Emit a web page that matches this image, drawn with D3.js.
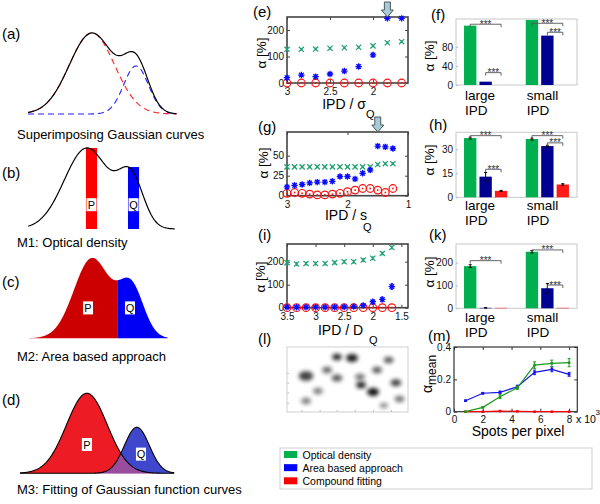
<!DOCTYPE html>
<html><head><meta charset="utf-8">
<script src="https://cdn.jsdelivr.net/npm/d3@7"></script>
<style>body{margin:0;background:#fff}svg{display:block}</style>
</head><body><svg id="c" width="600" height="504"></svg>
<script>
const FONT = '"Liberation Sans", Arial, Helvetica, sans-serif';
// ---------------- DATA ----------------
// schematic gaussians (amplitude, mean, sd in units of P-curve sd)
const aAmp = [1, 0.593], aMean = [0, 1.95], aSd = [1, 0.549];
const bBarX = [0.2, 2.06], bBarTop = [1.0, 0.765];
const cAmp = [1, 0.64], cMean = [0, 2.17], cSd = [1, 0.70], cSplit = 1.44;
const cLabelX = [-0.22, 2.11], cLabelY = [0.38, 0.38];
const dAmp = [1, 0.575], dMean = [0, 2.45], dSd = [1, 0.61];
const dLabelX = [0, 2.65], dLabelY = [0.36, 0.24];
const peakLabels = ['P', 'Q'];

// (e) IPD / sigma_Q
const eX = [3, 2.833, 2.667, 2.5, 2.333, 2.167, 2, 1.833, 1.667];
const eOD = [127, 127, 128, 131, 133, 135, 140, 152, 156];
const eODErr = [3, 3, 3, 3, 3, 3, 3, 3, 3];
const eArea = [20, 30, 24, 34, 45, 62, 106, 244, 244];
const eAreaErr = [5, 5, 5, 6, 6, 7, 7, 4, 4];
const eFit = [0, 0, 0, 0, 0, 0, 0, 0, 0];
const eArrow = 1.833;
// (g) IPD / s_Q
const gX = [3, 2.875, 2.75, 2.625, 2.5, 2.375, 2.25, 2.125, 2, 1.875, 1.75, 1.625, 1.5, 1.375, 1.25];
const gOD = [36, 36, 36, 36, 36, 36, 36, 36, 36, 36, 36, 36, 39, 40, 40];
const gODErr = [1, 1, 1, 1, 1, 1, 1, 1, 1, 1, 1, 1, 1, 1, 1];
const gArea = [11, 13, 14, 16, 17, 17, 18, 24, 24, 21, 28, 32, 62, 61, 59];
const gAreaErr = [2, 2, 2, 2, 2, 2, 2, 2, 2, 2, 2, 2, 2, 2, 2];
const gFit = [3, 4, 3, 2, 1, 1, 2, 3, 5, 7, 9, 9, 7, 4, 9];
const gArrow = 1.5;
// (i) IPD / D_Q
const iX = [3.5, 3.333, 3.167, 3, 2.833, 2.667, 2.5, 2.333, 2.167, 2, 1.833, 1.667];
const iOD = [196, 190, 192, 192, 192, 196, 200, 200, 207, 215, 236, 262];
const iODErr = [6, 6, 6, 6, 6, 6, 6, 6, 6, 6, 6, 6];
const iArea = [2, 2, 2, 2, 2, 2, 3, 5, 10, 26, 36, 92];
const iAreaErr = [4, 4, 4, 4, 4, 4, 4, 5, 6, 8, 10, 12];
const iFit = [0, 0, 0, 0, 0, 0, 0, 0, 0, 0, 0, 0];

// bar panels (f), (h), (k): [large IPD, small IPD]
const groups = ['large', 'small'];
const groupLine2 = 'IPD';
const methods = ['od', 'area', 'fit'];
const methodNames = ['Optical density', 'Area based approach', 'Compound fitting'];
const fOD = [125, 137], fArea = [7, 104], fFit = [0, 0];
const hOD = [37, 36.4], hArea = [12.9, 32], hFit = [4, 8];
const hODErr = [0.6, 0.6], hAreaErr = [2.6, 0.5], hFitErr = [0.3, 0.5];
const kOD = [185, 248], kArea = [2, 88], kFit = [2, 2];
const kODErr = [6, 5], kAreaErr = [1, 21], kFitErr = [0, 0];

// (l) spots, normalized image coords
const lX = [0.157, 0.331, 0.413, 0.256, 0.157, 0.413, 0.537, 0.603, 0.612, 0.711, 0.744, 0.84, 0.9, 0.93, 0.8];
const lY = [0.446, 0.354, 0.477, 0.677, 0.831, 0.154, 0.169, 0.462, 0.585, 0.692, 0.354, 0.2, 0.55, 0.8, 0.9];
const lR = [6, 4, 4.5, 4, 4, 4, 5, 4, 4, 5, 4, 4, 4.5, 4, 3.5];
const lDark = [0.75, 0.6, 0.65, 0.5, 0.5, 0.85, 0.9, 0.55, 0.9, 0.95, 0.65, 0.65, 0.75, 0.55, 0.45];

// (m) spots per pixel (x 10^3)
const mX = [0.8, 2, 3.2, 4.4, 5.6, 6.8, 8.0];
const mOD = [0, 0.027, 0.093, 0.148, 0.288, 0.299, 0.303];
const mODErr = [0, 0.003, 0.012, 0.01, 0.02, 0.02, 0.025];
const mArea = [0.068, 0.114, 0.12, 0.154, 0.243, 0.262, 0.231];
const mAreaErr = [0.004, 0.005, 0.008, 0.01, 0.014, 0.015, 0.012];
const mFit = [0, 0, 0.004, 0.002, 0, 0, 0];

// ---------------- DRAWING ----------------
const svg = d3.select('#c').attr('font-family', FONT);
const COL = {odBar: '#00b050', areaBar: '#000090', fitBar: '#ff1a1a',
  odMark: '#1fa070', areaMark: '#0a0aff', fitMark: '#ff1010',
  odLine: '#1e9a1e', areaLine: '#1414f0', fitLine: '#ff0000',
  legOD: '#00b050', legArea: '#0000ff', legFit: '#ff0000'};

function T(x, y, s, o = {}) {
  const t = svg.append('text').attr('x', x).attr('y', y).text(s)
    .attr('font-size', o.size || 13).attr('fill', o.fill || '#000')
    .attr('text-anchor', o.anchor || 'start');
  if (o.rotate) t.attr('transform', `rotate(-90,${x},${y})`);
  return t;
}

// panel labels
[['(a)', 2, 39], ['(b)', 2, 178], ['(c)', 2, 287], ['(d)', 2, 405],
 ['(e)', 253, 17], ['(f)', 431, 20], ['(g)', 258, 132], ['(h)', 429, 130],
 ['(i)', 258, 240], ['(k)', 429, 240], ['(l)', 258, 344], ['(m)', 428, 341]]
  .forEach(d => T(d[1], d[2], d[0], {size: 15}));

const gauss = (amp, mean, sd, i, x) => amp[i] * Math.exp(-((x - mean[i]) ** 2) / (2 * sd[i] ** 2));

function labelBox(cx, cy, s) {
  svg.append('rect').attr('x', cx - 5).attr('y', cy - 6.5).attr('width', 10).attr('height', 13).attr('fill', '#fff');
  T(cx, cy + 4, s, {size: 11, anchor: 'middle'});
}

// (a)
{
  const x = d3.scaleLinear().domain([-2.83, 3.75]).range([28, 176.7]);
  const y = d3.scaleLinear().domain([0, 1]).range([114, 33]);
  const xs = d3.range(x.domain()[0], x.domain()[1] + 0.001, 0.03);
  const line = d3.line().x(d => x(d[0])).y(d => y(d[1]));
  [0, 1].forEach(i => svg.append('path').attr('d', line(xs.map(v => [v, gauss(aAmp, aMean, aSd, i, v)])))
    .attr('fill', 'none').attr('stroke', i ? '#2020ff' : '#ff2020').attr('stroke-width', 1.1).attr('stroke-dasharray', '6,4'));
  svg.append('path').attr('d', line(xs.map(v => [v, gauss(aAmp, aMean, aSd, 0, v) + gauss(aAmp, aMean, aSd, 1, v)])))
    .attr('fill', 'none').attr('stroke', '#000').attr('stroke-width', 1.2);
  T(17, 139, 'Superimposing Gaussian curves', {size: 13});
}
// (b)
{
  const x = d3.scaleLinear().domain([-2.6, 3.9]).range([28.2, 175.1]);
  const y = d3.scaleLinear().domain([0, 1]).range([229, 148]);
  const xs = d3.range(x.domain()[0], x.domain()[1] + 0.001, 0.03);
  const bw = x(0.49) - x(0);
  [0, 1].forEach(i => {
    svg.append('rect').attr('x', x(bBarX[i]) - bw / 2).attr('y', y(bBarTop[i])).attr('width', bw)
      .attr('height', y(0) - y(bBarTop[i])).attr('fill', i ? '#0000ff' : '#ff0000');
  });
  svg.append('path').attr('d', d3.line().x(d => x(d)).y(d => y(gauss(aAmp, aMean, aSd, 0, d) + gauss(aAmp, aMean, aSd, 1, d)))(xs))
    .attr('fill', 'none').attr('stroke', '#000').attr('stroke-width', 1.2);
  [0, 1].forEach(i => labelBox(x(bBarX[i]), y(0.3), peakLabels[i]));
  T(17, 247, 'M1: Optical density', {size: 13});
}
// (c)
{
  const x = d3.scaleLinear().domain([-3.61, 4.2]).range([27, 167.6]);
  const y = d3.scaleLinear().domain([0, 1]).range([338.3, 258.3]);
  const sum = v => gauss(cAmp, cMean, cSd, 0, v) + gauss(cAmp, cMean, cSd, 1, v);
  const area = d3.area().x(d => x(d)).y0(y(0)).y1(d => y(sum(d)));
  const left = d3.range(x.domain()[0], cSplit, 0.03).concat([cSplit]);
  const right = [cSplit].concat(d3.range(cSplit + 0.03, x.domain()[1] + 0.001, 0.03));
  svg.append('path').attr('d', area(left)).attr('fill', '#cc0000');
  svg.append('path').attr('d', area(right)).attr('fill', '#0000f5');
  [0, 1].forEach(i => labelBox(x(cLabelX[i]), y(cLabelY[i]), peakLabels[i]));
  T(17, 361, 'M2: Area based approach', {size: 13});
}
// (d)
{
  const x = d3.scaleLinear().domain([-3.28, 4.3]).range([20, 174.6]);
  const y = d3.scaleLinear().domain([0, 1]).range([473.3, 393.3]);
  const xs = d3.range(x.domain()[0], x.domain()[1] + 0.001, 0.03);
  const g0 = v => gauss(dAmp, dMean, dSd, 0, v), g1 = v => gauss(dAmp, dMean, dSd, 1, v);
  const area = f => d3.area().x(d => x(d)).y0(y(0)).y1(d => y(f(d)))(xs);
  svg.append('path').attr('d', area(g0)).attr('fill', '#ed1c24');
  svg.append('path').attr('d', area(g1)).attr('fill', '#3f48cc');
  svg.append('path').attr('d', area(v => Math.min(g0(v), g1(v)))).attr('fill', '#9a4c9e');
  [g0, g1].forEach(f => svg.append('path').attr('d', d3.line().x(d => x(d)).y(d => y(f(d)))(xs))
    .attr('fill', 'none').attr('stroke', '#000').attr('stroke-width', 1.1));
  [0, 1].forEach(i => labelBox(x(dLabelX[i]), y(dLabelY[i]), peakLabels[i]));
  T(17, 494, 'M3: Fitting of Gaussian function curves', {size: 13});
}

function styleAxis(a, col, labels) {
  a.attr('font-family', FONT).attr('font-size', 10);
  a.select('.domain').remove();
  a.selectAll('.tick line').attr('stroke', col);
  a.selectAll('text').attr('fill', '#111');
  if (!labels) a.selectAll('text').remove();
}

function markX(g, cx, cy, r, col) {
  g.append('path').attr('d', `M${cx - r},${cy - r}L${cx + r},${cy + r}M${cx - r},${cy + r}L${cx + r},${cy - r}`)
    .attr('stroke', col).attr('stroke-width', 1.2).attr('fill', 'none');
}
function markStar(g, cx, cy, r, col) {
  const q = r * 0.72;
  g.append('path').attr('d', `M${cx - r},${cy}L${cx + r},${cy}M${cx},${cy - r}L${cx},${cy + r}M${cx - q},${cy - q}L${cx + q},${cy + q}M${cx - q},${cy + q}L${cx + q},${cy - q}`)
    .attr('stroke', col).attr('stroke-width', 1.3).attr('fill', 'none');
}
function errBar(g, cx, y1, y2, col, cap, w) {
  g.append('path').attr('d', `M${cx},${y1}L${cx},${y2}M${cx - cap},${y1}L${cx + cap},${y1}M${cx - cap},${y2}L${cx + cap},${y2}`)
    .attr('stroke', col).attr('stroke-width', w || 1).attr('fill', 'none');
}

function scatterPanel(p) {
  const x = d3.scaleLinear().domain(p.xDomain).range([p.left, p.right]);
  const y = d3.scaleLinear().domain(p.yDomain).range([p.bottom, p.top]);
  const g = svg.append('g');
  const fmt = d => String(d);
  styleAxis(g.append('g').attr('transform', `translate(0,${p.bottom})`).call(d3.axisBottom(x).tickValues(p.xTicks).tickSize(-3).tickPadding(5).tickFormat(fmt)), '#444', true);
  styleAxis(g.append('g').attr('transform', `translate(0,${p.top})`).call(d3.axisTop(x).tickValues(p.xTicks).tickSize(-3)), '#444', false);
  styleAxis(g.append('g').attr('transform', `translate(${p.left},0)`).call(d3.axisLeft(y).tickValues(p.yTicks).tickSize(-3).tickPadding(3).tickFormat(fmt)), '#444', true);
  styleAxis(g.append('g').attr('transform', `translate(${p.right},0)`).call(d3.axisRight(y).tickValues(p.yTicks).tickSize(-3)), '#444', false);
  g.append('rect').attr('x', p.left).attr('y', p.top).attr('width', p.right - p.left).attr('height', p.bottom - p.top)
    .attr('fill', 'none').attr('stroke', '#444').attr('stroke-width', 1.6);
  p.xs.forEach((v, i) => {
    const cx = x(v);
    errBar(g, cx, y(p.od[i] - p.odErr[i]), y(p.od[i] + p.odErr[i]), COL.odMark, 1, 1);
    markX(g, cx, y(p.od[i]), 2.6, COL.odMark);
  });
  p.xs.forEach((v, i) => {
    const cx = x(v), cy = y(p.fit[i]);
    g.append('circle').attr('cx', cx).attr('cy', cy).attr('r', 3.8).attr('fill', 'none').attr('stroke', COL.fitMark).attr('stroke-width', 1.2);
    g.append('rect').attr('x', cx - 0.8).attr('y', cy - 0.8).attr('width', 1.6).attr('height', 1.6).attr('fill', COL.fitMark);
  });
  p.xs.forEach((v, i) => {
    const cx = x(v);
    errBar(g, cx, y(p.area[i] - p.areaErr[i]), y(p.area[i] + p.areaErr[i]), COL.areaMark, 1.2, 1);
    markStar(g, cx, y(p.area[i]), 3.2, COL.areaMark);
  });
  if (p.arrow !== undefined) {
    const ax = x(p.arrow), ty = p.top;
    svg.append('path').attr('d', `M${ax - 3},${ty - 15}L${ax + 3},${ty - 15}L${ax + 3},${ty - 7}L${ax + 6},${ty - 7}L${ax},${ty}L${ax - 6},${ty - 7}L${ax - 3},${ty - 7}Z`)
      .attr('fill', '#a9cbd3').attr('stroke', '#4a5a60').attr('stroke-width', 1);
  }
  T(p.ylx, p.yly, 'α [%]', {size: 13.5, anchor: 'middle', rotate: true});
  T(p.xlx, p.xly, p.xlabel, {size: 14, anchor: 'middle'});
  T(p.qx, p.qy, 'Q', {size: 11});
}

scatterPanel({left: 287, right: 408, top: 17, bottom: 83, xDomain: [3, 1.593], yDomain: [0, 249],
  xTicks: [3, 2.5, 2], yTicks: [0, 100, 200], xs: eX, od: eOD, odErr: eODErr, area: eArea, areaErr: eAreaErr, fit: eFit,
  arrow: eArrow, ylx: 266, yly: 53, xlabel: 'IPD / σ', xlx: 344, xly: 109, qx: 366, qy: 118});
scatterPanel({left: 287, right: 408, top: 132, bottom: 195.7, xDomain: [3, 1], yDomain: [0, 79.6],
  xTicks: [3, 2, 1], yTicks: [0, 25, 50], xs: gX, od: gOD, odErr: gODErr, area: gArea, areaErr: gAreaErr, fit: gFit,
  arrow: gArrow, ylx: 268, yly: 163, xlabel: 'IPD / s', xlx: 346, xly: 220, qx: 363, qy: 231});
scatterPanel({left: 287, right: 408, top: 244, bottom: 307.7, xDomain: [3.5, 1.384], yDomain: [0, 277],
  xTicks: [3.5, 3, 2.5, 2, 1.5], yTicks: [0, 100, 200], xs: iX, od: iOD, odErr: iODErr, area: iArea, areaErr: iAreaErr, fit: iFit,
  ylx: 265, yly: 277, xlabel: 'IPD / D', xlx: 340.5, xly: 335, qx: 369, qy: 344});

function barPanel(p) {
  const x0 = d3.scaleBand().domain(groups).range([456, 577]).paddingInner(0.3).paddingOuter(0.13);
  const x1 = d3.scaleBand().domain(methods).range([0, x0.bandwidth()]).paddingInner(0.2);
  const y = d3.scaleLinear().domain(p.yDomain).range([p.bottom, p.top]);
  const g = svg.append('g');
  g.append('rect').attr('x', 456).attr('y', p.top).attr('width', 121).attr('height', p.bottom - p.top)
    .attr('fill', 'none').attr('stroke', '#c8c8c8').attr('stroke-width', 1);
  styleAxis(g.append('g').attr('transform', 'translate(456,0)').call(d3.axisLeft(y).tickValues(p.yTicks).tickSize(-2).tickPadding(3).tickFormat(d => String(d))), '#bbb', true);
  const vals = {od: p.od, area: p.area, fit: p.fit};
  const errs = {od: p.odErr, area: p.areaErr, fit: p.fitErr};
  const cols = {od: COL.odBar, area: COL.areaBar, fit: COL.fitBar};
  methods.forEach(m => groups.forEach((gr, i) => {
    const v = vals[m][i];
    g.append('rect').attr('x', x0(gr) + x1(m)).attr('y', y(v)).attr('width', x1.bandwidth())
      .attr('height', Math.max(0, y(0) - y(v))).attr('fill', cols[m]);
  }));
  methods.forEach(m => groups.forEach((gr, i) => {
    if (!errs[m] || !errs[m][i]) return;
    const cx = x0(gr) + x1(m) + x1.bandwidth() / 2, v = vals[m][i];
    errBar(g, cx, y(v - errs[m][i]), y(v + errs[m][i]), '#000', 1.5, 1);
  }));
  p.brackets.forEach(b => {
    const gr = groups[b[0]];
    const xa = x0(gr) + x1(b[1]) + x1.bandwidth() / 2, xb = x0(gr) + x1(b[2]) + x1.bandwidth() / 2, yy = y(b[3]);
    g.append('path').attr('d', `M${xa},${yy + 3}L${xa},${yy}L${xb},${yy}L${xb},${yy + 3}`)
      .attr('fill', 'none').attr('stroke', '#555').attr('stroke-width', 0.9);
    T((xa + xb) / 2, yy + 3.5, '***', {size: 10, anchor: 'middle', fill: '#333'});
  });
  groups.forEach(gr => {
    T(x0(gr) + 1, p.lab1, gr, {size: 13.5});
    T(x0(gr) + 1, p.lab1 + 15, groupLine2, {size: 13.5});
  });
  T(434, p.yly, 'α [%]', {size: 13.5, anchor: 'middle', rotate: true});
}

barPanel({top: 19, bottom: 85, yDomain: [0, 139], yTicks: [0, 40, 80], od: fOD, area: fArea, fit: fFit,
  brackets: [[0, 'od', 'fit', 128], [0, 'area', 'fit', 26], [1, 'od', 'fit', 130], [1, 'area', 'fit', 111]], lab1: 100, yly: 56});
barPanel({top: 132.3, bottom: 197.3, yDomain: [0, 40.6], yTicks: [0, 15, 30], od: hOD, area: hArea, fit: hFit,
  odErr: hODErr, areaErr: hAreaErr, fitErr: hFitErr,
  brackets: [[0, 'od', 'fit', 38.5], [0, 'area', 'fit', 17.5], [1, 'od', 'fit', 38.5], [1, 'area', 'fit', 34]], lab1: 210, yly: 160});
barPanel({top: 244, bottom: 308.3, yDomain: [0, 282], yTicks: [0, 100, 200], od: kOD, area: kArea, fit: kFit,
  odErr: kODErr, areaErr: kAreaErr, fitErr: kFitErr,
  brackets: [[0, 'od', 'fit', 209], [1, 'od', 'fit', 256], [1, 'area', 'fit', 102]], lab1: 322, yly: 272});

// (l) spot image
{
  const x = d3.scaleLinear().domain([0, 1]).range([287, 408]);
  const y = d3.scaleLinear().domain([0, 1]).range([347, 412]);
  const defs = svg.append('defs');
  defs.append('filter').attr('id', 'blur').attr('x', '-50%').attr('y', '-50%').attr('width', '200%').attr('height', '200%')
    .append('feGaussianBlur').attr('stdDeviation', 2);
  defs.append('clipPath').attr('id', 'lclip').append('rect').attr('x', 287).attr('y', 347).attr('width', 121).attr('height', 65);
  const g = svg.append('g').attr('clip-path', 'url(#lclip)');
  lX.forEach((v, i) => g.append('ellipse').attr('cx', x(v)).attr('cy', y(lY[i])).attr('rx', lR[i] * 1.2).attr('ry', lR[i] * 0.8)
    .attr('fill', '#000').attr('opacity', lDark[i]).attr('filter', 'url(#blur)'));
  const ax = svg.append('g');
  styleAxis(ax.append('g').attr('transform', 'translate(0,412)').call(d3.axisBottom(x).tickValues([0.12, 0.27, 0.41, 0.56, 0.71, 0.86]).tickSize(-2)), '#bbb', false);
  styleAxis(ax.append('g').attr('transform', 'translate(287,0)').call(d3.axisLeft(y).tickValues([0.4, 0.55, 0.7, 0.86]).tickSize(-2)), '#bbb', false);
  ax.append('rect').attr('x', 287).attr('y', 347).attr('width', 121).attr('height', 65).attr('fill', 'none').attr('stroke', '#cfcfcf');
}

// (m)
{
  const x = d3.scaleLinear().domain([0, 8.57]).range([454, 577.3]);
  const y = d3.scaleLinear().domain([0, 0.4]).range([411.7, 347]);
  const g = svg.append('g');
  styleAxis(g.append('g').attr('transform', 'translate(0,411.7)').call(d3.axisBottom(x).tickValues([0, 2, 4, 6, 8]).tickSize(-3).tickPadding(4).tickFormat(d => String(d))), '#333', true);
  styleAxis(g.append('g').attr('transform', 'translate(0,347)').call(d3.axisTop(x).tickValues([0, 2, 4, 6, 8]).tickSize(-3)), '#333', false);
  styleAxis(g.append('g').attr('transform', 'translate(454,0)').call(d3.axisLeft(y).tickValues([0, 0.2, 0.4]).tickSize(-3).tickPadding(3).tickFormat(d => String(d))), '#333', true);
  styleAxis(g.append('g').attr('transform', 'translate(577.3,0)').call(d3.axisRight(y).tickValues([0, 0.2, 0.4]).tickSize(-3)), '#333', false);
  g.append('rect').attr('x', 454).attr('y', 347).attr('width', 123.3).attr('height', 64.7).attr('fill', 'none').attr('stroke', '#333').attr('stroke-width', 1.2);
  const line = d3.line().x((d, i) => x(mX[i])).y(d => y(d));
  [[mFit, null, COL.fitLine], [mArea, mAreaErr, COL.areaLine], [mOD, mODErr, COL.odLine]].forEach(([vals, errs, col]) => {
    g.append('path').attr('d', line(vals)).attr('fill', 'none').attr('stroke', col).attr('stroke-width', 1.2);
    vals.forEach((v, i) => {
      if (errs && errs[i]) errBar(g, x(mX[i]), y(v - errs[i]), y(v + errs[i]), col, 1.5, 1);
      g.append('rect').attr('x', x(mX[i]) - 1.3).attr('y', y(v) - 1.3).attr('width', 2.6).attr('height', 2.6).attr('fill', col);
    });
  });
  T(518, 436, 'Spots per pixel', {size: 14, anchor: 'middle'});
  T(576, 423, 'x 10', {size: 10.5});
  T(595.5, 415, '3', {size: 8});
  const yl = svg.append('text').attr('transform', 'translate(432,393) rotate(-90)').attr('font-size', 14);
  yl.append('tspan').text('α');
  yl.append('tspan').attr('dy', 4).attr('font-size', 12).text('mean');
}

// legend
{
  const g = svg.append('g');
  g.append('rect').attr('x', 280).attr('y', 448).attr('width', 312).attr('height', 41).attr('fill', '#fff').attr('stroke', '#cfcfcf');
  const cols = [COL.legOD, COL.legArea, COL.legFit];
  const ly = d3.scalePoint().domain(methodNames).range([454.5, 480.8]);
  methodNames.forEach((n, i) => {
    g.append('rect').attr('x', 284).attr('y', ly(n) - 3.5).attr('width', 13.3).attr('height', 7).attr('fill', cols[i]);
    T(302.5, ly(n) + 4, n, {size: 10.5});
  });
}
</script></body></html>
